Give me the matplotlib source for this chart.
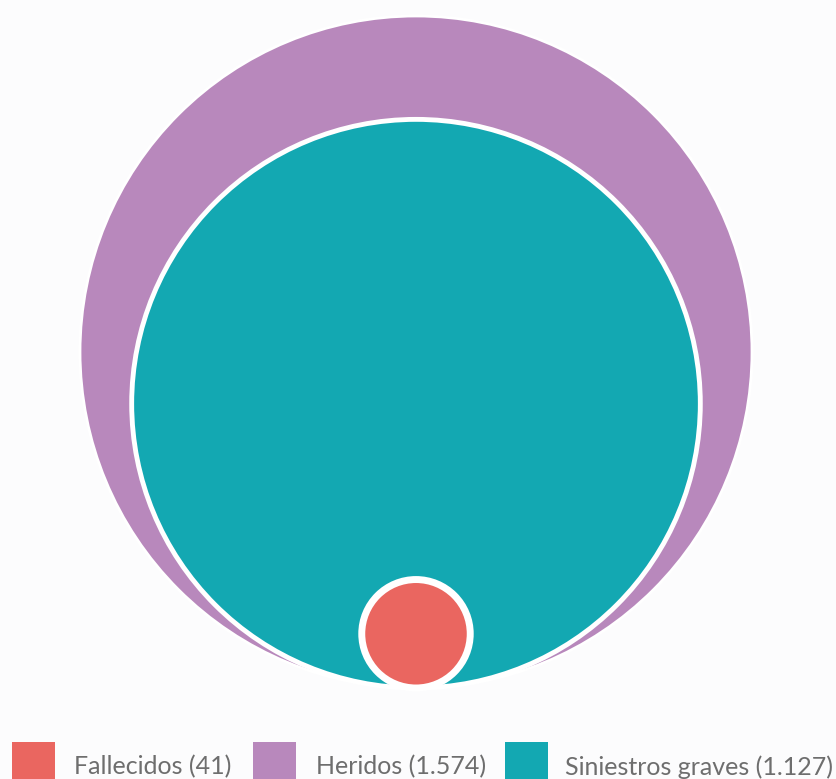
import matplotlib
matplotlib.use("Agg")
import matplotlib.pyplot as plt
from matplotlib.patches import Circle, Rectangle
import numpy as np

# Datos
categorias = ["Fallecidos", "Heridos", "Siniestros graves"]
valores = [41, 1574, 1127]
etiquetas = ["Fallecidos (41)", "Heridos (1.574)", "Siniestros graves (1.127)"]
colores = ["#EA6660", "#B888BC", "#13A8B2"]

W, H = 837, 779
fig = plt.figure(figsize=(W / 100, H / 100), dpi=100)
fig.patch.set_facecolor("#FCFCFD")
ax = fig.add_axes([0, 0, 1, 1])
ax.set_xlim(0, W)
ax.set_ylim(H, 0)
ax.set_aspect("equal")
ax.axis("off")

# bubbles: area proportional to value, all resting on the same baseline
base_y = 688
cx = 416
escala = 336 / np.sqrt(max(valores))
orden = np.argsort(valores)[::-1]
bordes = {0: 5, 1: 2, 2: 3.5}
for z, i in enumerate(orden):
    r = escala * np.sqrt(valores[i])
    ax.add_patch(Circle((cx, base_y - r), r, facecolor=colores[i],
                        edgecolor="white", linewidth=bordes[i], zorder=2 + z))

# legend
leg_x = [12, 253, 505]
txt_x = [74, 316, 565]
for i in range(3):
    ax.add_patch(Rectangle((leg_x[i], 742), 43, 44, facecolor=colores[i],
                           edgecolor="none", zorder=5, clip_on=False))
    ax.text(txt_x[i], 767, etiquetas[i], fontsize=18, color="#6E6E6E",
            family="Lato", va="center", ha="left", zorder=5)

fig.savefig("out.png", dpi=100, facecolor=fig.get_facecolor())
